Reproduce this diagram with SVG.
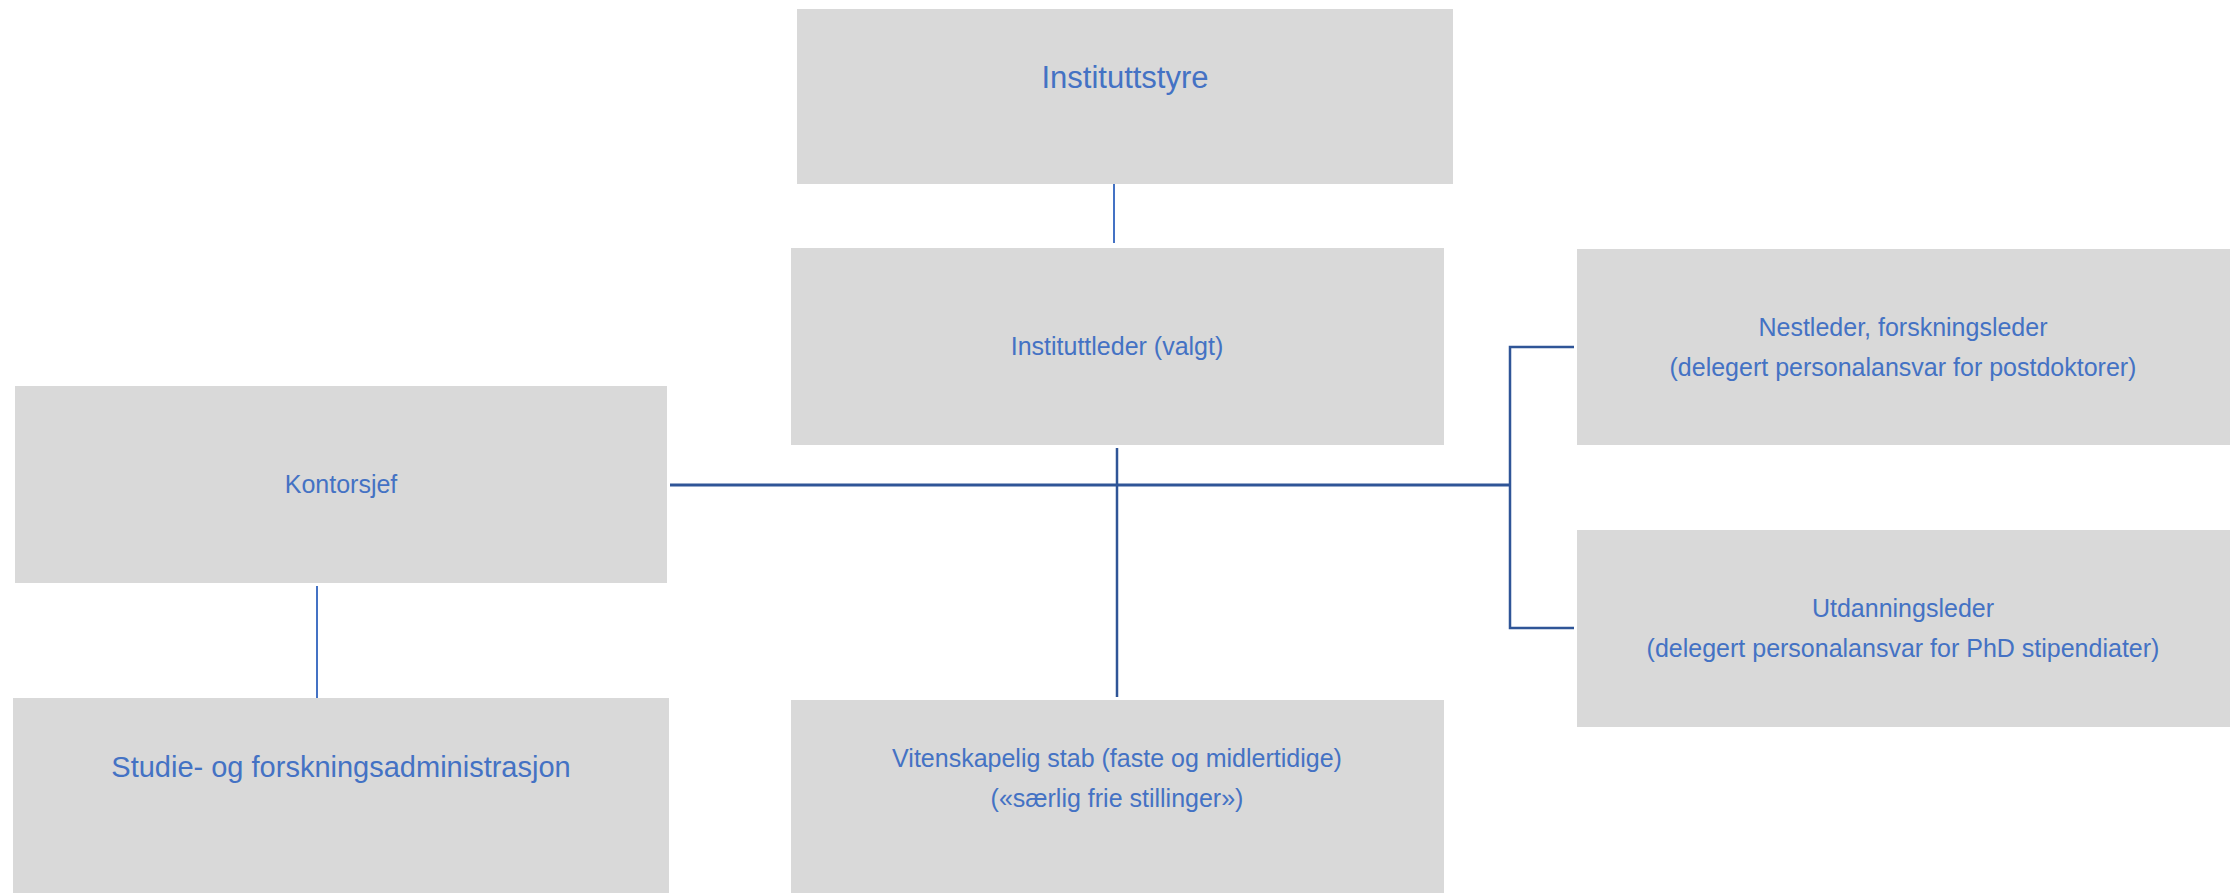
<svg xmlns="http://www.w3.org/2000/svg" width="2234" height="893" viewBox="0 0 2234 893">
<style>
.box{fill:#D9D9D9}
.t{font-family:"Liberation Sans",Arial,sans-serif;fill:#4472C4;text-anchor:middle;font-size:25px}
.big{font-size:29px}
.c1{stroke:#4472C4;stroke-width:2;fill:none}
.c2{stroke:#2F5597;stroke-width:2.5;fill:none}
.c3{stroke:#2F5597;stroke-width:3;fill:none}
</style>
<rect width="2234" height="893" fill="#FFFFFF"/>
<g id="connectors">
<line class="c1" x1="1114" y1="184" x2="1114" y2="243"/>
<line class="c1" x1="317" y1="586" x2="317" y2="698"/>
<line class="c2" x1="1117" y1="448" x2="1117" y2="697"/>
<line class="c3" x1="670" y1="485" x2="1510" y2="485"/>
<polyline class="c2" points="1574,347 1510,347 1510,628 1574,628"/>
</g>
<g id="instituttstyre">
<rect class="box" x="797" y="9" width="656" height="175"/>
<text class="t" style="font-size:31px" x="1125" y="88">Instituttstyre</text>
</g>
<g id="instituttleder">
<rect class="box" x="791" y="248" width="653" height="197"/>
<text class="t" x="1117" y="355">Instituttleder (valgt)</text>
</g>
<g id="kontorsjef">
<rect class="box" x="15" y="386" width="652" height="197"/>
<text class="t" x="341" y="493">Kontorsjef</text>
</g>
<g id="studieadm">
<rect class="box" x="13" y="698" width="656" height="195"/>
<text class="t big" x="341" y="777">Studie- og forskningsadministrasjon</text>
</g>
<g id="vitenskapelig">
<rect class="box" x="791" y="700" width="653" height="193"/>
<text class="t" x="1117" y="767">Vitenskapelig stab (faste og midlertidige)</text>
<text class="t" x="1117" y="807">(«særlig frie stillinger»)</text>
</g>
<g id="nestleder">
<rect class="box" x="1577" y="249" width="653" height="196"/>
<text class="t" x="1903" y="336">Nestleder, forskningsleder</text>
<text class="t" x="1903" y="376">(delegert personalansvar for postdoktorer)</text>
</g>
<g id="utdanningsleder">
<rect class="box" x="1577" y="530" width="653" height="197"/>
<text class="t" x="1903" y="617">Utdanningsleder</text>
<text class="t" x="1903" y="657">(delegert personalansvar for PhD stipendiater)</text>
</g>
</svg>
